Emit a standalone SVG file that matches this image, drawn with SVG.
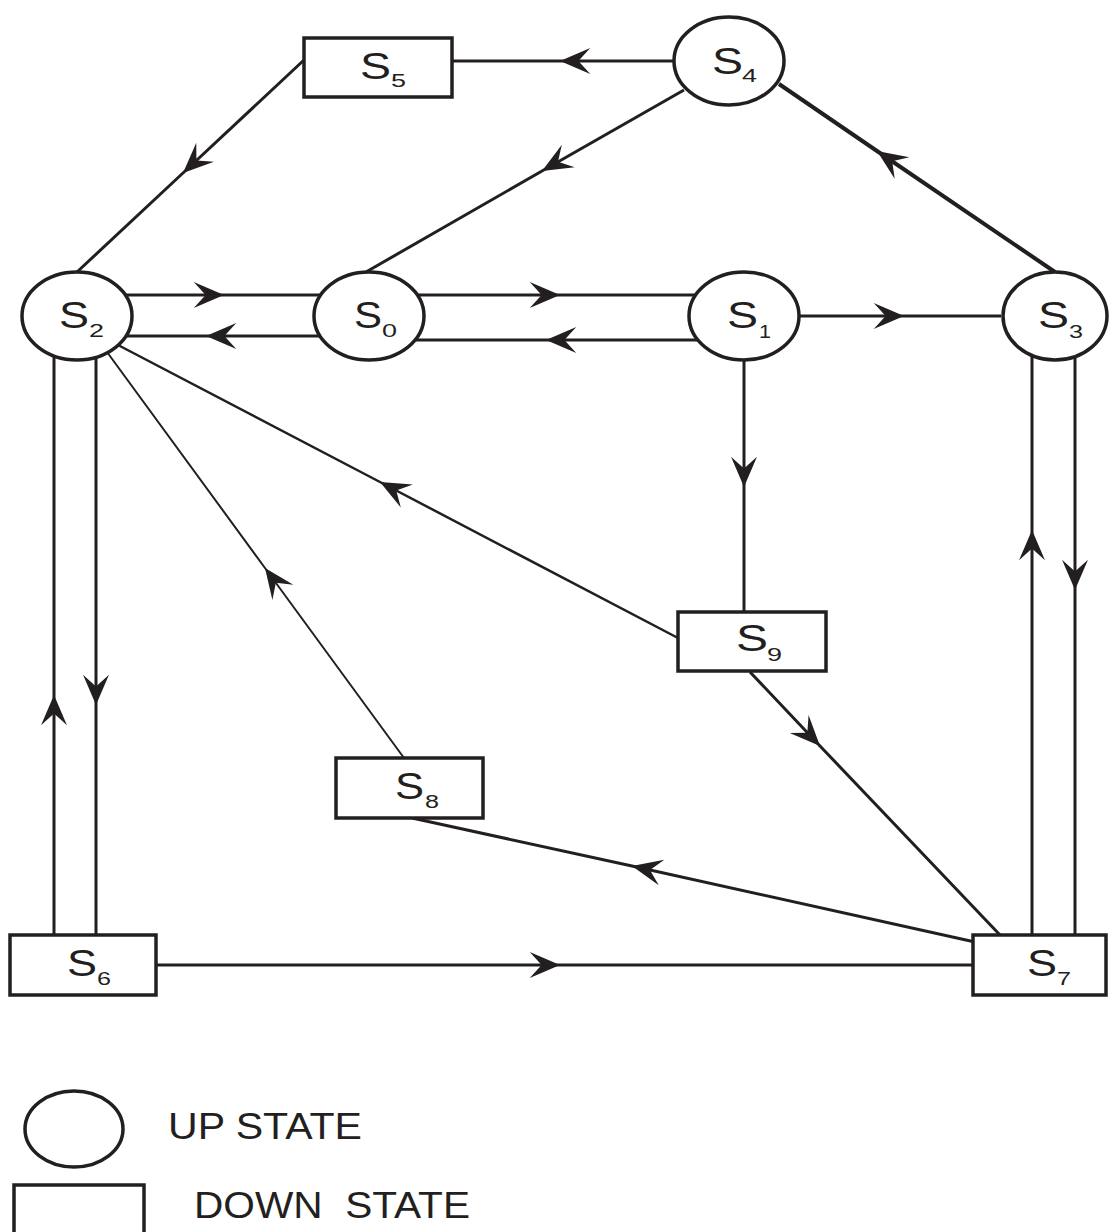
<svg xmlns="http://www.w3.org/2000/svg" width="1109" height="1232" viewBox="0 0 1109 1232">
<style>
.node{fill:#fff;stroke:#231f20;stroke-width:3.5}
.c{fill:none;stroke:#231f20;stroke-width:3;marker-mid:url(#ah)}
.thin{stroke-width:2}
.mid{stroke-width:2.5}
.thick{stroke-width:4}
.lbl{font-family:"Liberation Sans",Arial,sans-serif;font-size:36px;fill:#231f20}
.sub{font-family:"Liberation Sans",Arial,sans-serif;font-size:18px;fill:#231f20}
.leg{font-family:"Liberation Sans",Arial,sans-serif;font-size:36px;fill:#231f20}
</style>
<defs>
<marker id="ah" markerUnits="userSpaceOnUse" markerWidth="40" markerHeight="40" viewBox="-32 -16 37 32" refX="0" refY="0" orient="auto">
<path d="M0,0 L-28,-12 L-17,0 L-28,12 Z" fill="#231f20"/>
</marker>
</defs>
<rect width="1109" height="1232" fill="#fff"/>
<g id="connectors">
<path class="c" d="M673,61 L560,61 L452,61"/>
<path class="c" d="M304,60 L183,173 L77,272"/>
<path class="c" d="M684,90 L542,171 L366,272"/>
<path class="c thick" d="M1055,272 L877,151 L779,84"/>
<path class="c" d="M126,295 L224,295 L320,295"/>
<path class="c" d="M319,336 L206,336 L127,336"/>
<path class="c" d="M418,295 L560,295 L695,295"/>
<path class="c" d="M697,340 L546,340 L416,340"/>
<path class="c" d="M800,316 L904,316 L1001,316"/>
<path class="c" d="M744,361 L744,487 L744,612"/>
<path class="c mid" d="M678,638 L380,482 L118,345"/>
<path class="c thin" d="M404,758 L265,568 L107,352"/>
<path class="c" d="M750,672 L820,746 L1000,935"/>
<path class="c" d="M975,942 L632,866 L412,818"/>
<path class="c" d="M156,965 L560,965 L973,965"/>
<path class="c" d="M54,935 L54,695 L54,356"/>
<path class="c" d="M96,357 L96,705 L96,935"/>
<path class="c" d="M1032,935 L1032,530 L1032,356"/>
<path class="c" d="M1075,357 L1075,590 L1075,935"/>
</g>
<g id="S4"><ellipse class="node" cx="729" cy="61" rx="55" ry="44"/><text class="lbl" x="712" y="74" textLength="31" lengthAdjust="spacingAndGlyphs">S</text><text class="sub" x="742" y="82" textLength="15" lengthAdjust="spacingAndGlyphs">4</text></g>
<g id="S5"><rect class="node" x="304" y="38" width="148" height="59"/><text class="lbl" x="360" y="79" textLength="31" lengthAdjust="spacingAndGlyphs">S</text><text class="sub" x="391" y="87" textLength="15" lengthAdjust="spacingAndGlyphs">5</text></g>
<g id="S2"><ellipse class="node" cx="77" cy="316" rx="55" ry="44"/><text class="lbl" x="59" y="328" textLength="30" lengthAdjust="spacingAndGlyphs">S</text><text class="sub" x="89" y="337" textLength="15" lengthAdjust="spacingAndGlyphs">2</text></g>
<g id="S0"><ellipse class="node" cx="369" cy="316" rx="55" ry="44"/><text class="lbl" x="354" y="328" textLength="28" lengthAdjust="spacingAndGlyphs">S</text><text class="sub" x="382" y="337" textLength="15" lengthAdjust="spacingAndGlyphs">0</text></g>
<g id="S1"><ellipse class="node" cx="744" cy="316" rx="55" ry="44"/><text class="lbl" x="727" y="328" textLength="31" lengthAdjust="spacingAndGlyphs">S</text><text class="sub" x="759" y="338" textLength="12" lengthAdjust="spacingAndGlyphs">1</text></g>
<g id="S3"><ellipse class="node" cx="1055" cy="316" rx="52" ry="44"/><text class="lbl" x="1038" y="328" textLength="31" lengthAdjust="spacingAndGlyphs">S</text><text class="sub" x="1069" y="338" textLength="14" lengthAdjust="spacingAndGlyphs">3</text></g>
<g id="S9"><rect class="node" x="678" y="612" width="148" height="59"/><text class="lbl" x="736" y="651" textLength="32" lengthAdjust="spacingAndGlyphs">S</text><text class="sub" x="767" y="661" textLength="15" lengthAdjust="spacingAndGlyphs">9</text></g>
<g id="S8"><rect class="node" x="336" y="758" width="147" height="60"/><text class="lbl" x="395" y="799" textLength="29" lengthAdjust="spacingAndGlyphs">S</text><text class="sub" x="425" y="808" textLength="14" lengthAdjust="spacingAndGlyphs">8</text></g>
<g id="S6"><rect class="node" x="10" y="935" width="146" height="60"/><text class="lbl" x="67" y="976" textLength="30" lengthAdjust="spacingAndGlyphs">S</text><text class="sub" x="97" y="985" textLength="14" lengthAdjust="spacingAndGlyphs">6</text></g>
<g id="S7"><rect class="node" x="973" y="935" width="133" height="60"/><text class="lbl" x="1027" y="976" textLength="30" lengthAdjust="spacingAndGlyphs">S</text><text class="sub" x="1057" y="985" textLength="14" lengthAdjust="spacingAndGlyphs">7</text></g>
<g id="legend">
<ellipse class="node" cx="74" cy="1129" rx="49" ry="38" stroke-width="3"/>
<text class="leg" x="168" y="1139" textLength="194" lengthAdjust="spacingAndGlyphs">UP STATE</text>
<rect class="node" x="14" y="1185" width="130" height="60" stroke-width="3"/>
<text class="leg" x="194" y="1218" textLength="276" lengthAdjust="spacingAndGlyphs" xml:space="preserve">DOWN  STATE</text>
</g>
</svg>
